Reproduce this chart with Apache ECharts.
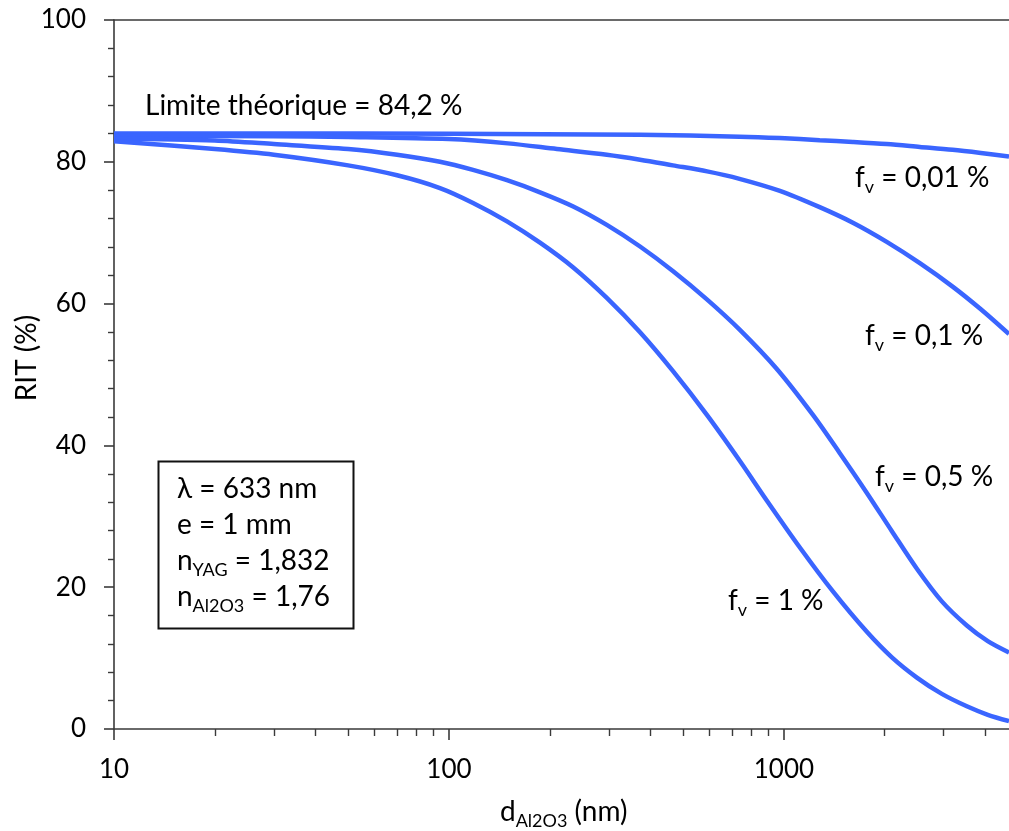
<!DOCTYPE html>
<html><head><meta charset="utf-8">
<script src="https://cdn.jsdelivr.net/npm/echarts@6/dist/echarts.min.js"></script>
<style>html,body{margin:0;padding:0;background:#fff}#c{width:1009px;height:831px}</style>
</head><body><div id="c"></div>
<script>
// ---- data ----
const xMajorTicks = [10, 100, 1000];
const xMinorTicks = [20, 30, 40, 50, 60, 70, 80, 90, 200, 300, 400, 500, 600, 700, 800, 900, 2000, 3000, 4000];

const dFv001 = [10, 30, 100, 372, 737, 973, 1279, 1607, 2028, 2546, 3190, 3873, 4700];
const ritFv001 = [84.0, 84.0, 83.95, 83.8, 83.55, 83.35, 83.05, 82.8, 82.5, 82.1, 81.7, 81.25, 80.75];

const dFv01 = [10, 30, 50, 100, 150, 210, 296, 372, 466, 590, 737, 973, 1279, 1607, 2028, 2546, 3190, 3873, 4700];
const ritFv01 = [83.7, 83.6, 83.5, 83.2, 82.6, 81.8, 81.0, 80.3, 79.5, 78.65, 77.6, 75.9, 73.6, 71.4, 68.7, 65.7, 62.4, 59.2, 55.7];

const dFv05 = [10, 20, 30, 50, 70, 94, 118, 149, 187, 235, 296, 372, 466, 589, 739, 950, 1221, 1469, 1769, 2101, 2495, 2962, 3517, 4062, 4700];
const ritFv05 = [83.3, 83.0, 82.5, 81.8, 81.0, 80.0, 78.85, 77.4, 75.7, 73.7, 71.1, 68.05, 64.6, 60.6, 56.3, 50.85, 44.3, 38.9, 33.3, 27.9, 22.6, 18.0, 14.6, 12.4, 10.8];

const dFv1 = [10, 20, 30, 50, 70, 94, 118, 149, 187, 235, 296, 372, 466, 589, 739, 890, 1116, 1401, 1769, 2101, 2495, 2962, 3517, 4062, 4700];
const ritFv1 = [82.9, 81.8, 81.0, 79.5, 78.1, 76.3, 74.2, 71.6, 68.6, 65.1, 60.8, 55.95, 50.5, 44.3, 37.8, 32.2, 25.6, 19.4, 13.7, 10.1, 7.25, 4.95, 3.2, 2.0, 1.1];

const seriesNames = ['f_v = 0,01 %', 'f_v = 0,1 %', 'f_v = 0,5 %', 'f_v = 1 %'];

// ---- chart ----
const FONT = 'Lato';
const BLUE = '#3a65ff';
const AX = '#3a3a3a';
const zip = (xs, ys) => xs.map((x, i) => [x, ys[i]]);

const chart = echarts.init(document.getElementById('c'));

const mainRich = {
  m: {fontSize: 28, fontFamily: FONT, color: '#000', lineHeight: 36, verticalAlign: 'middle'},
  s: {fontSize: 18, fontFamily: FONT, color: '#000', lineHeight: 18, verticalAlign: 'bottom'}
};
function rtext(left, cy, str, extra) {
  return Object.assign({
    type: 'text', x: left, y: cy,
    style: {text: str, rich: mainRich, align: 'left', verticalAlign: 'middle'}
  }, extra || {});
}

const lineSeries = (name, xs, ys) => ({
  name, type: 'line', xAxisIndex: 0, yAxisIndex: 0,
  data: zip(xs, ys), showSymbol: false, smooth: 0.3,
  lineStyle: {color: BLUE, width: 4.5}, itemStyle: {color: BLUE}
});

chart.setOption({
  animation: false,
  backgroundColor: '#fff',
  grid: {left: 114, right: 0, top: 20, bottom: 102},
  xAxis: [
    {
      type: 'log', logBase: 10, min: 10, max: 4700, position: 'bottom',
      axisLine: {show: true, lineStyle: {color: AX, width: 1.6}},
      axisTick: {show: true, length: 11, inside: false, customValues: xMajorTicks, lineStyle: {color: AX, width: 1.6}},
      axisLabel: {show: true, customValues: xMajorTicks, margin: 28, fontSize: 26, fontFamily: FONT, color: '#000',
                  formatter: v => String(Math.round(v))},
      splitLine: {show: false}, minorTick: {show: false}
    },
    {
      type: 'log', logBase: 10, min: 10, max: 4700, position: 'bottom',
      axisLine: {show: false},
      axisTick: {show: true, length: 7, customValues: xMinorTicks, lineStyle: {color: AX, width: 1.4}},
      axisLabel: {show: false}, splitLine: {show: false}
    },
    {
      type: 'log', logBase: 10, min: 10, max: 4700, position: 'top',
      axisLine: {show: true, lineStyle: {color: AX, width: 1.6}},
      axisTick: {show: false}, axisLabel: {show: false}, splitLine: {show: false}
    }
  ],
  yAxis: {
    type: 'value', min: 0, max: 100, interval: 20,
    axisLine: {show: true, lineStyle: {color: AX, width: 1.6}},
    axisTick: {show: true, length: 10, lineStyle: {color: AX, width: 1.6}},
    minorTick: {show: true, splitNumber: 5, length: 6, lineStyle: {color: AX, width: 1.4}},
    axisLabel: {margin: 28, fontSize: 26, fontFamily: FONT, color: '#000'},
    splitLine: {show: false}, minorSplitLine: {show: false}
  },
  series: [
    lineSeries(seriesNames[0], dFv001, ritFv001),
    lineSeries(seriesNames[1], dFv01, ritFv01),
    lineSeries(seriesNames[2], dFv05, ritFv05),
    lineSeries(seriesNames[3], dFv1, ritFv1)
  ],
  graphic: [
    rtext(145, 106, '{m|Limite théorique = 84,2 %}'),
    rtext(855, 178, '{m|f}{s|v}{m| = 0,01 %}'),
    rtext(865, 336, '{m|f}{s|v}{m| = 0,1 %}'),
    rtext(875, 477, '{m|f}{s|v}{m| = 0,5 %}'),
    rtext(728, 601, '{m|f}{s|v}{m| = 1 %}'),
    {type: 'rect', shape: {x: 158.5, y: 461.5, width: 195, height: 167},
     style: {fill: '#fff', stroke: '#111', lineWidth: 2}, z: 10},
    rtext(177, 489, '{m|λ = 633 nm}', {z: 11}),
    rtext(177, 525, '{m|e = 1 mm}', {z: 11}),
    rtext(177, 561, '{m|n}{s|YAG}{m| = 1,832}', {z: 11}),
    rtext(177, 597, '{m|n}{s|Al2O3}{m| = 1,76}', {z: 11}),
    {type: 'text', x: 27, y: 358, rotation: Math.PI / 2,
     style: {text: 'RIT (%)', fontSize: 28, fontFamily: FONT, fill: '#000', align: 'center', verticalAlign: 'middle'}},
    rtext(500, 812, '{m|d}{s|Al2O3}{m| (nm)}')
  ]
});
</script></body></html>
